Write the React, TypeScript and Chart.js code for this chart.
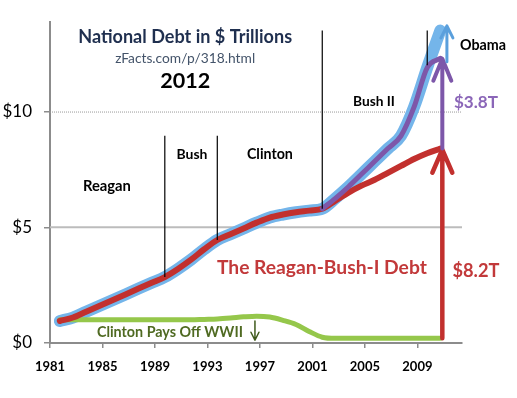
import { useEffect, useRef } from "react";
import { Chart, registerables } from "chart.js";
Chart.register(...registerables);

// ---- data ----
const years = [1981, 1982, 1983, 1984, 1985, 1986, 1987, 1988, 1989, 1990, 1991, 1992, 1993, 1994, 1995, 1996, 1997, 1998, 1999, 2000, 2001, 2002, 2003, 2004, 2005, 2006, 2007, 2008, 2009, 2010];
const totalDebt = [0.95, 1.1, 1.35, 1.6, 1.85, 2.1, 2.35, 2.6, 2.85, 3.2, 3.6, 4.05, 4.45, 4.7, 4.95, 5.2, 5.42, 5.55, 5.65, 5.72, 5.8, 6.25, 6.75, 7.3, 7.85, 8.4, 8.95, 10.2, 11.9, 13.5];
const reaganBushDebt = [0.95, 1.1, 1.35, 1.6, 1.85, 2.1, 2.35, 2.6, 2.85, 3.2, 3.6, 4.05, 4.45, 4.7, 4.95, 5.2, 5.42, 5.55, 5.65, 5.72, 5.8, 6.15, 6.5, 6.8, 7.05, 7.35, 7.65, 7.95, 8.2, 8.4];
const wwiiDebt = [1.0, 1.0, 1.0, 1.0, 1.0, 1.0, 1.0, 1.0, 1.0, 1.0, 1.0, 1.02, 1.04, 1.08, 1.13, 1.16, 1.12, 0.98, 0.8, 0.5, 0.25, 0.2, 0.2, 0.2, 0.2, 0.2, 0.2, 0.2, 0.2, 0.2];
const bushObamaYears = [2001, 2002, 2003, 2004, 2005, 2006, 2007, 2008, 2009, 2010];
const bushObamaDebt = [5.8, 6.25, 6.75, 7.3, 7.85, 8.4, 8.95, 10.2, 11.9, 12.3];
const xTickYears = [1981, 1985, 1989, 1993, 1997, 2001, 2005, 2009];
const yTickValues = [0, 5, 10];
const yTickLabels = ["$0", "$5", "$10"];
const presidentYears = [1989, 1993, 2001, 2009];
const presidentLineBottoms = [2.85, 4.45, 5.8, 12.0];
const presidentLineTops = [8.95, 8.95, 13.5, 13.5];
const arrowYears = [2010.9, 2010.9, 2011.25];
const arrowFrom = [0.2, 8.4, 12.15];
const arrowTo = [8.35, 12.28, 13.7];

const FY_OFFSET = 0.75; // fiscal year ends Sept 30

const RED = "#c2302e";
const PURPLE = "#7d57a9";
const BLUE = "#74b5ea";
const GREEN = "#95c74b";

type Label = { text: string; x: number; y: number; w: number; color: string; weight: string };
const labels: Label[] = [
  { text: "National Debt in $ Trillions", x: 1991.3, y: 13.2, w: 214, color: "#1f2f4f", weight: "bold" },
  { text: "zFacts.com/p/318.html", x: 1991.3, y: 12.28, w: 140, color: "#44546a", weight: "normal" },
  { text: "2012", x: 1991.3, y: 11.33, w: 50, color: "#000", weight: "bold" },
  { text: "Reagan", x: 1985.34, y: 6.76, w: 48, color: "#000", weight: "bold" },
  { text: "Bush", x: 1991.82, y: 8.13, w: 31, color: "#000", weight: "bold" },
  { text: "Clinton", x: 1997.76, y: 8.13, w: 46, color: "#000", weight: "bold" },
  { text: "Bush II", x: 2005.69, y: 10.41, w: 42, color: "#000", weight: "bold" },
  { text: "Obama", x: 2014.0, y: 12.86, w: 46, color: "#000", weight: "bold" },
  { text: "$3.8T", x: 2013.46, y: 10.37, w: 44, color: "#8b66b8", weight: "bold" },
  { text: "$8.2T", x: 2013.46, y: 3.11, w: 47, color: "#c2393a", weight: "bold" },
  { text: "The Reagan-Bush-I Debt", x: 2001.72, y: 3.24, w: 210, color: "#c2393a", weight: "bold" },
  { text: "Clinton Pays Off WWII", x: 1990.14, y: 0.46, w: 146, color: "#4f6a22", weight: "bold" },
];

const FONT = "Lato";

const pts = (xs: number[], ys: number[]) => xs.map((x, i) => ({ x: x + FY_OFFSET, y: ys[i] }));

function drawArrow(ctx: CanvasRenderingContext2D, x: number, y1: number, y2: number, color: string, lw: number, hw: number, hl: number) {
  ctx.save();
  ctx.strokeStyle = color;
  ctx.lineWidth = lw;
  ctx.lineCap = "round";
  ctx.lineJoin = "round";
  ctx.beginPath();
  ctx.moveTo(x, y1);
  ctx.lineTo(x, y2);
  ctx.moveTo(x - hw, y2 + hl);
  ctx.lineTo(x, y2);
  ctx.lineTo(x + hw, y2 + hl);
  ctx.stroke();
  ctx.restore();
}

const decorPlugin = {
  id: "decor",
  beforeDatasetsDraw(chart: any) {
    const { ctx, chartArea, scales } = chart;
    const y = scales.y;
    ctx.save();
    let py = y.getPixelForValue(5);
    ctx.strokeStyle = "#bcbcbc";
    ctx.lineWidth = 2;
    ctx.beginPath();
    ctx.moveTo(chartArea.left, py);
    ctx.lineTo(chartArea.right, py);
    ctx.stroke();
    py = y.getPixelForValue(10);
    ctx.strokeStyle = "#9a9a9a";
    ctx.lineWidth = 1;
    ctx.setLineDash([1, 1]);
    ctx.beginPath();
    ctx.moveTo(chartArea.left, py + 0.5);
    ctx.lineTo(chartArea.right, py + 0.5);
    ctx.stroke();
    ctx.restore();
  },
  afterDatasetsDraw(chart: any) {
    const { ctx, scales } = chart;
    const xs = scales.x;
    const ys = scales.y;
    const colors = [RED, PURPLE, "#5a9fdc"];
    const lws = [4.5, 4, 3];
    const hws = [10, 9, 6];
    const hls = [23, 22, 12];
    arrowYears.forEach((yr, i) => {
      drawArrow(ctx, xs.getPixelForValue(yr), ys.getPixelForValue(arrowFrom[i]), ys.getPixelForValue(arrowTo[i]), colors[i], lws[i], hws[i], hls[i]);
    });
    // small down arrow after "Clinton Pays Off WWII"
    drawArrow(ctx, xs.getPixelForValue(1996.62), ys.getPixelForValue(0.95), ys.getPixelForValue(0.12), "#3f5a1c", 1.5, 4, -8);
    ctx.save();
    ctx.textAlign = "center";
    ctx.textBaseline = "middle";
    labels.forEach((l) => {
      ctx.font = `${l.weight} 20px ${FONT}`;
      const m = ctx.measureText(l.text).width;
      const size = (20 * l.w) / m;
      ctx.font = `${l.weight} ${size.toFixed(2)}px ${FONT}`;
      ctx.fillStyle = l.color;
      ctx.fillText(l.text, xs.getPixelForValue(l.x), ys.getPixelForValue(l.y));
    });
    ctx.restore();
  },
};

export default function App() {
  const ref = useRef<HTMLCanvasElement>(null);
  useEffect(() => {
    document.body.style.margin = "0";
    const lineDs = (data: any[], color: string, width: number, order: number) => ({
      data,
      borderColor: color,
      backgroundColor: color,
      borderWidth: width,
      pointRadius: 0,
      pointHoverRadius: 0,
      fill: false,
      cubicInterpolationMode: "monotone" as const,
      borderCapStyle: "round" as const,
      borderJoinStyle: "round" as const,
      order,
    });
    const dividers = presidentYears.map((yr, i) =>
      lineDs(
        [
          { x: yr + FY_OFFSET, y: presidentLineBottoms[i] },
          { x: yr + FY_OFFSET, y: presidentLineTops[i] },
        ],
        "#000",
        1.2,
        0
      )
    );
    const chart = new Chart(ref.current!, {
      type: "line",
      data: {
        datasets: [
          ...dividers.map((d) => ({ ...d, borderCapStyle: "butt" as const })),
          lineDs(pts(bushObamaYears, bushObamaDebt), PURPLE, 5, 1),
          lineDs(pts(years, reaganBushDebt), RED, 6, 2),
          lineDs(pts(years, wwiiDebt), GREEN, 5, 3),
          lineDs(pts(years, totalDebt), BLUE, 12, 4),
        ],
      },
      options: {
        animation: false,
        responsive: false,
        events: [],
        layout: { padding: { top: 9, right: 55, left: 0, bottom: 0 } },
        plugins: { legend: { display: false }, tooltip: { enabled: false }, title: { display: false } },
        scales: {
          x: {
            type: "linear",
            min: 1981,
            max: 2012.4,
            afterBuildTicks: (s: any) => {
              s.ticks = xTickYears.map((v) => ({ value: v }));
            },
            afterFit: (s: any) => {
              s.height = 55;
            },
            ticks: {
              autoSkip: false,
              maxRotation: 0,
              padding: 11,
              color: "#000",
              font: { family: FONT, size: 13, weight: "bold" },
              callback: (v: any) => String(v),
            },
            grid: { drawOnChartArea: false, drawTicks: true, tickLength: 5, color: "#8c8c8c", lineWidth: 1.5 },
            border: { color: "#8c8c8c", width: 2 },
          },
          y: {
            type: "linear",
            min: 0,
            max: 13.86,
            afterBuildTicks: (s: any) => {
              s.ticks = yTickValues.map((v) => ({ value: v }));
            },
            afterFit: (s: any) => {
              s.width = 50;
            },
            ticks: {
              padding: 12,
              color: "#000",
              font: { family: FONT, size: 17 },
              callback: (v: any) => yTickLabels[yTickValues.indexOf(v)],
            },
            grid: { drawOnChartArea: false, drawTicks: true, tickLength: 6, color: "#8c8c8c", lineWidth: 1.5 },
            border: { color: "#8c8c8c", width: 2 },
          },
        },
      },
      plugins: [decorPlugin],
    });
    return () => chart.destroy();
  }, []);
  return (
    <div style={{ width: 517, height: 398 }}>
      <canvas ref={ref} width={517} height={398} style={{ display: "block" }} />
    </div>
  );
}
